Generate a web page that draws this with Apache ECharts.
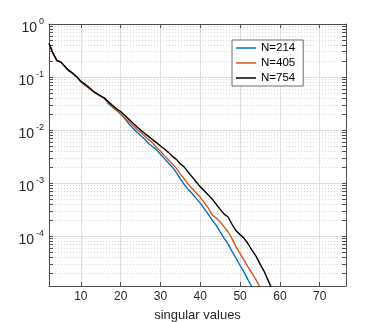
<!DOCTYPE html>
<html>
<head>
<meta charset="utf-8">
<script src="https://cdn.jsdelivr.net/npm/echarts@6/dist/echarts.min.js"></script>
<style>
    html, body { margin: 0; padding: 0; background: #fff; }
    #chart { width: 382px; height: 322px; }
</style>
</head>
<body>
<div id="chart"></div>
<script>
// singular value index
var ranks = [2, 3, 4, 5, 6, 7, 8, 9, 10, 11, 12, 13, 14, 15, 16, 17, 18, 19, 20,
    21, 22, 23, 24, 25, 26, 27, 28, 29, 30, 31, 32, 33, 34, 35, 36, 37, 38, 39, 40,
    41, 42, 43, 44, 45, 46, 47, 48, 49, 50, 51, 52, 53, 54, 55, 56, 57, 58, 59];

var seriesNames = ['N=214', 'N=405', 'N=754'];

var sv214 = [0.427, 0.282, 0.204, 0.191, 0.158, 0.132, 0.117, 0.100, 0.082, 0.071,
    0.062, 0.054, 0.048, 0.043, 0.039, 0.031, 0.027, 0.0234, 0.020, 0.0166,
    0.0132, 0.011, 0.0093, 0.0079, 0.0068, 0.0056, 0.0049, 0.0042, 0.0035, 0.0029,
    0.0024, 0.0020, 0.00158, 0.0012, 9.3e-4, 7.6e-4, 6.3e-4, 5.1e-4, 4.2e-4, 3.3e-4,
    2.6e-4, 2.0e-4, 1.6e-4, 1.2e-4, 9.1e-5, 7.1e-5, 5.1e-5, 3.8e-5, 2.8e-5, 2.1e-5,
    1.5e-5, 1.1e-5, 8e-6];

var sv405 = [0.427, 0.282, 0.204, 0.191, 0.158, 0.132, 0.117, 0.100, 0.082, 0.071,
    0.062, 0.054, 0.048, 0.043, 0.039, 0.032, 0.0275, 0.024, 0.0204, 0.017,
    0.0145, 0.0123, 0.0105, 0.0091, 0.0078, 0.0066, 0.0058, 0.0047, 0.0040, 0.0033,
    0.00275, 0.0023, 0.0019, 0.00148, 0.0012, 9.5e-4, 7.8e-4, 6.5e-4, 5.4e-4, 4.3e-4,
    3.4e-4, 2.5e-4, 2.2e-4, 1.86e-4, 1.5e-4, 1.2e-4, 8.9e-5, 6.3e-5, 4.7e-5, 3.5e-5,
    2.6e-5, 2.0e-5, 1.5e-5, 1.1e-5, 8e-6];

var sv754 = [0.427, 0.282, 0.204, 0.191, 0.158, 0.132, 0.117, 0.100, 0.083, 0.074,
    0.064, 0.055, 0.049, 0.044, 0.040, 0.034, 0.029, 0.025, 0.0224, 0.019,
    0.0162, 0.0138, 0.0117, 0.0100, 0.0087, 0.0076, 0.0066, 0.0058, 0.0050, 0.0044,
    0.0038, 0.0032, 0.0028, 0.0023, 0.0020, 0.0016, 0.0013, 0.00105, 8.5e-4, 7.2e-4,
    6.0e-4, 5.0e-4, 4.0e-4, 3.2e-4, 2.6e-4, 2.3e-4, 1.66e-4, 1.26e-4, 1.07e-4, 9.1e-5,
    7.2e-5, 5.4e-5, 4.2e-5, 3.0e-5, 2.2e-5, 1.5e-5, 1.0e-5, 6.3e-6];

var xTicks = [10, 20, 30, 40, 50, 60, 70];
var yMajor = [1e-4, 1e-3, 1e-2, 1e-1, 1];
var yMinor = [2e-5, 3e-5, 4e-5, 5e-5, 6e-5, 7e-5, 8e-5, 9e-5,
    2e-4, 3e-4, 4e-4, 5e-4, 6e-4, 7e-4, 8e-4, 9e-4,
    2e-3, 3e-3, 4e-3, 5e-3, 6e-3, 7e-3, 8e-3, 9e-3,
    2e-2, 3e-2, 4e-2, 5e-2, 6e-2, 7e-2, 8e-2, 9e-2,
    0.2, 0.3, 0.4, 0.5, 0.6, 0.7, 0.8, 0.9];

(function () {
    var colors = ['#0072BD', '#D95319', '#000000'];
    var axisColor = '#4d4d4d';
    var xMin = 2, xMax = 76.6, yMin = 1.15e-5, yMax = 1;

    function pairs(vals) {
        var out = [];
        for (var i = 0; i < vals.length; i++) {
            out.push([ranks[i], vals[i]]);
        }
        return out;
    }

    function yAxisBase(pos) {
        return {
            type: 'log', logBase: 10, min: yMin, max: yMax, position: pos, offset: 0,
            axisLine: {show: false}, axisTick: {show: false}, axisLabel: {show: false},
            splitLine: {show: false}
        };
    }

    // left axis: labels and all ticks
    var yLeft = yAxisBase('left');
    yLeft.axisLine = {show: true, lineStyle: {color: axisColor, width: 1}};
    yLeft.axisTick = {show: true, inside: true, length: 4, customValues: yMajor.concat(yMinor),
        lineStyle: {color: axisColor}};
    yLeft.axisLabel = {
        show: true, customValues: yMajor, margin: 5, padding: [4, 0, 0, 0],
        formatter: function (v) {
            var e = Math.round(Math.log(v) / Math.LN10);
            return '{b|10}{s|' + e + '}';
        },
        rich: {
            b: {fontSize: 14, color: '#262626', fontFamily: 'Liberation Sans', lineHeight: 18, verticalAlign: 'bottom'},
            s: {fontSize: 9, color: '#262626', fontFamily: 'Liberation Sans', verticalAlign: 'top', padding: [0, 0, 0, 2]}
        }
    };
    // solid major grid
    var yMajorGrid = yAxisBase('left');
    yMajorGrid.axisTick = {show: false, customValues: yMajor};
    yMajorGrid.splitLine = {show: true, lineStyle: {color: '#dedede', width: 1}};
    // right axis (box edge + ticks)
    var yRight = yAxisBase('right');
    yRight.axisLine = {show: true, lineStyle: {color: axisColor, width: 1}};
    yRight.axisTick = {show: true, inside: true, length: 4, customValues: yMajor.concat(yMinor),
        lineStyle: {color: axisColor}};
    // dotted minor grid
    var yMinorGrid = yAxisBase('right');
    yMinorGrid.axisTick = {show: false, customValues: yMinor};
    yMinorGrid.splitLine = {show: true, lineStyle: {color: '#d6d6d6', width: 1, type: [1, 2]}};

    var option = {
        animation: false,
        backgroundColor: '#ffffff',
        color: colors,
        grid: {left: 49, right: 36, top: 24, bottom: 36, containLabel: false, outerBoundsMode: 'none'},
        legend: {
            orient: 'vertical', left: 232, top: 40,
            icon: 'path://M0,0L20,0L20,1.5L0,1.5Z',
            itemWidth: 20, itemHeight: 14, itemGap: 3, itemTextGap: 2,
            padding: [2, 8, 2, 4],
            backgroundColor: '#ffffff', borderColor: '#6b6b6b', borderWidth: 1,
            textStyle: {fontSize: 11.5, color: '#000', fontFamily: 'Liberation Sans'},
            data: seriesNames
        },
        xAxis: [{
            type: 'value', min: xMin, max: xMax, position: 'bottom',
            name: 'singular values', nameLocation: 'middle', nameGap: 23,
            nameTextStyle: {fontSize: 13, color: '#262626', fontFamily: 'Liberation Sans'},
            axisLine: {show: true, lineStyle: {color: axisColor, width: 1}},
            axisTick: {show: true, inside: true, length: 4, customValues: xTicks, lineStyle: {color: axisColor}},
            axisLabel: {customValues: xTicks, margin: 5, fontSize: 12, color: '#262626', fontFamily: 'Liberation Sans'},
            splitLine: {show: true, lineStyle: {color: '#dedede', width: 1}}
        }, {
            type: 'value', min: xMin, max: xMax, position: 'top',
            axisLine: {show: true, lineStyle: {color: axisColor, width: 1}},
            axisTick: {show: true, inside: true, length: 4, customValues: xTicks, lineStyle: {color: axisColor}},
            axisLabel: {show: false},
            splitLine: {show: false}
        }],
        yAxis: [yLeft, yMajorGrid, yRight, yMinorGrid],
        series: [sv214, sv405, sv754].map(function (vals, i) {
            return {
                name: seriesNames[i],
                type: 'line',
                data: pairs(vals),
                showSymbol: false,
                symbol: 'none',
                clip: true,
                lineStyle: {width: 1.4, color: colors[i]},
                itemStyle: {color: colors[i]}
            };
        })
    };

    var chart = echarts.init(document.getElementById('chart'));
    chart.setOption(option);
})();
</script>
</body>
</html>
